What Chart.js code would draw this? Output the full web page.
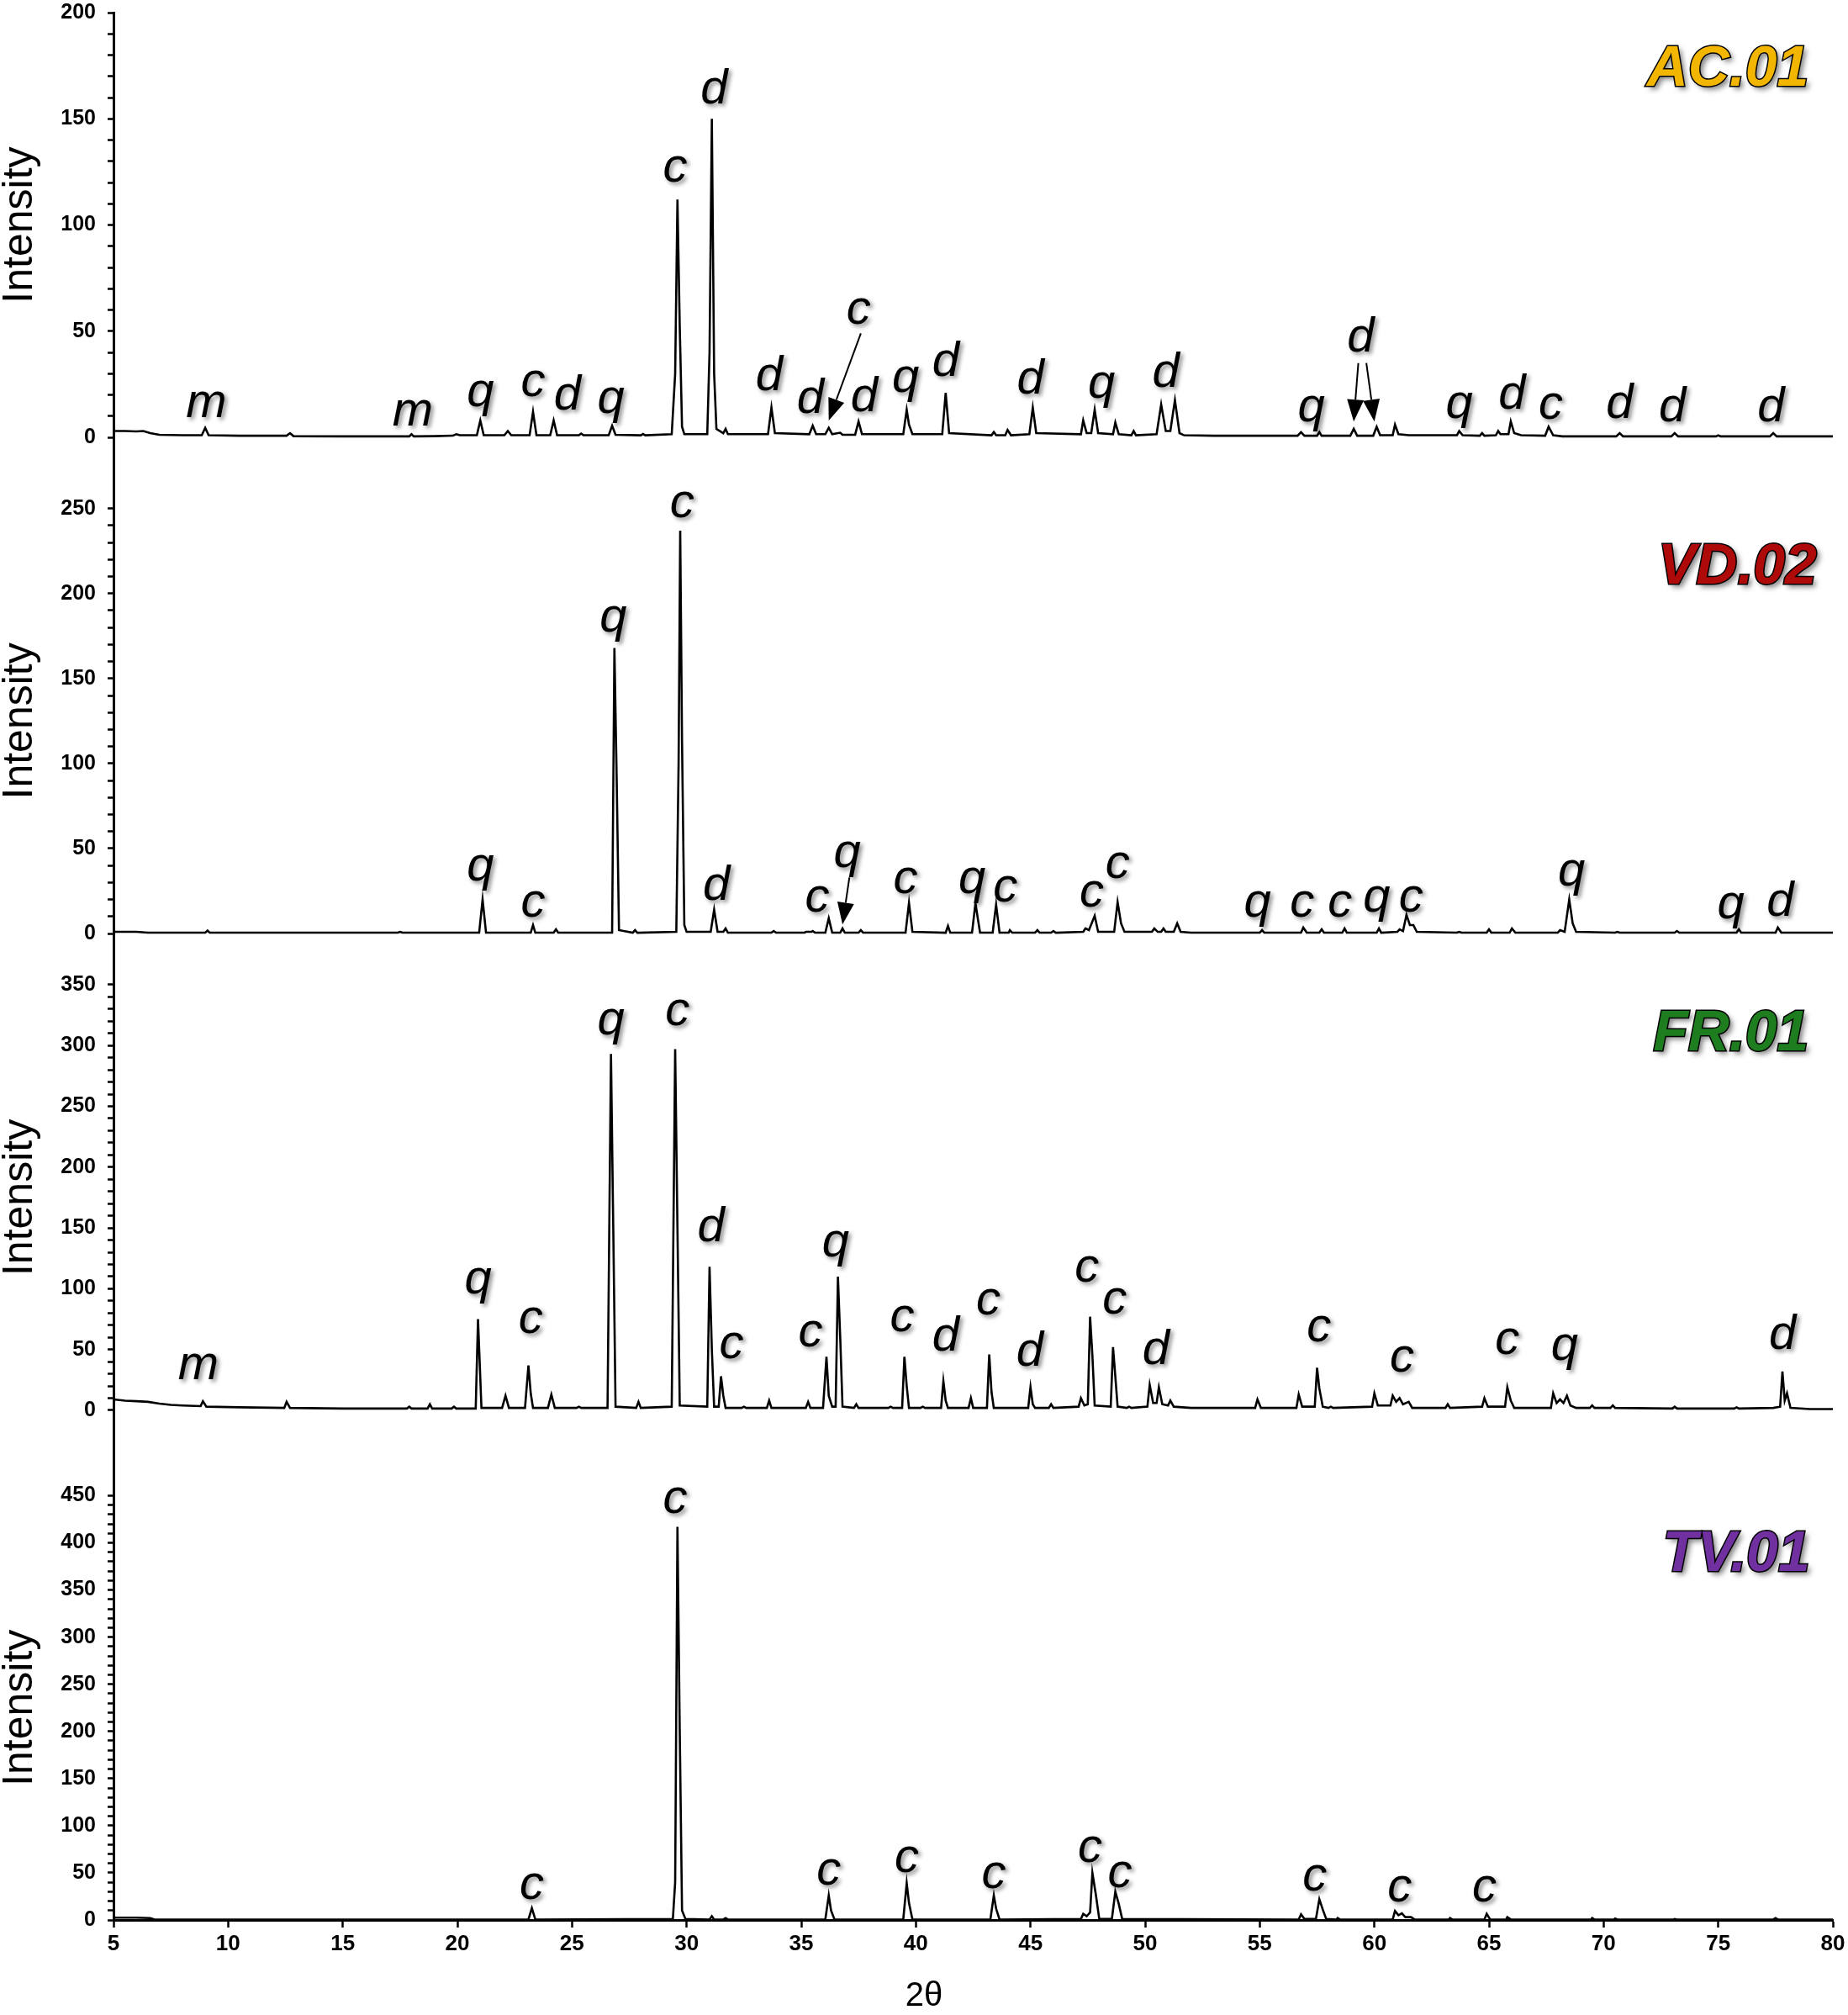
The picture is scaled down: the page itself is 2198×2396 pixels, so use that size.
<!DOCTYPE html>
<html>
<head>
<meta charset="utf-8">
<title>XRD patterns</title>
<script src="https://cdn.jsdelivr.net/npm/chart.js@4.4.1/dist/chart.umd.min.js"></script>
<style>
  body { margin: 0; background: #fff; }
  #wrap { position: relative; width: 2198px; height: 2396px; }
  #wrap canvas { position: absolute; left: 0; }
</style>
</head>
<body>
<div id="wrap">
  <canvas id="pAC" style="top:0px"></canvas>
  <canvas id="pVD" style="top:560px"></canvas>
  <canvas id="pFR" style="top:1140px"></canvas>
  <canvas id="pTV" style="top:1725px"></canvas>
</div>
<script>
// x axis ticks (2 theta)
const twoThetaTicks = [5, 10, 15, 20, 25, 30, 35, 40, 45, 50, 55, 60, 65, 70, 75, 80];

// AC.01 pattern
const acTheta = [5.0, 5.5, 6.0, 6.3, 6.6, 7.0, 8.0, 8.85, 9.0, 9.15, 10.5, 12.55, 12.7, 12.85, 15.0, 17.9, 18.0, 18.1, 19.0, 19.8, 19.95, 20.1,
  20.85, 21.0, 21.15, 22.05, 22.2, 22.35, 23.15, 23.3, 23.45, 24.05, 24.2, 24.35, 25.3, 25.4, 25.5, 26.6, 26.75, 26.9, 28.0, 28.1, 28.2,
  29.35, 29.5, 29.6, 29.7, 29.8, 29.9, 30.9, 31.0, 31.1, 31.2, 31.3, 31.6, 31.7, 31.8, 33.55, 33.7, 33.85, 35.35, 35.5, 35.65, 36.05, 36.2, 36.35,
  36.7, 36.8, 37.35, 37.5, 37.65, 39.45, 39.6, 39.7, 39.85, 41.15, 41.3, 41.45, 43.3, 43.4, 43.5, 43.9, 44.0, 44.15, 44.95, 45.1, 45.25,
  47.2, 47.3, 47.45, 47.65, 47.8, 47.95, 48.6, 48.7, 48.85, 49.4, 49.5, 49.6, 50.5, 50.7, 50.9, 51.1, 51.3, 51.5, 51.7, 53.0,
  56.65, 56.8, 56.95, 57.5, 57.6, 57.7, 58.95, 59.1, 59.25, 59.95, 60.1, 60.25, 60.8, 60.9, 61.05, 61.5, 63.6, 63.7, 63.85, 64.6, 64.7, 64.8,
  65.3, 65.4, 65.5, 65.85, 65.95, 66.1, 66.4, 67.45, 67.6, 67.8, 68.2, 70.55, 70.7, 70.85, 72.95, 73.1, 73.25, 74.9, 75.0, 75.1,
  77.25, 77.4, 77.55, 80.0];
const acIntensity = [3, 3, 2.8, 3, 2, 1.2, 1, 1, 4.5, 1, 0.8, 0.8, 2, 0.6, 0.5, 0.5, 1.5, 0.5, 0.6, 0.8, 1.5, 1,
  1, 8, 1, 1, 3, 1, 1, 12, 1, 1, 8, 1, 1, 1.8, 1, 1, 5.5, 1.2, 1, 1.6, 1,
  1.5, 30, 112, 52, 5, 1.5, 1.5, 40, 150, 30, 4, 2, 4, 1.5, 1.5, 14, 2, 1.5, 5.5, 1.5, 1.5, 4.5, 1.5,
  2.2, 1.2, 1.2, 7.5, 1.5, 1.5, 13, 6, 1.5, 1.5, 21, 2, 1, 2.5, 1, 1, 3.5, 1, 1.5, 14, 2,
  1.5, 8, 2, 2, 13, 2, 1.5, 7, 1.5, 1, 3, 1, 1.5, 15.5, 3, 3, 17.5, 2, 1, 0.8,
  0.8, 2.5, 0.8, 0.8, 2.5, 0.8, 0.8, 4, 0.8, 0.8, 5, 1, 1, 6, 1.5, 1, 1, 3, 1, 0.8, 2, 0.8,
  1, 3, 1.5, 1.5, 7.5, 2, 1, 0.8, 5, 1, 0.5, 0.5, 2, 0.5, 0.5, 2, 0.5, 0.5, 1, 0.5,
  0.5, 2, 0.5, 0.5];
const acLabels = ['m', 'm', 'q', 'c', 'd', 'q', 'c', 'd', 'd', 'd', 'c', 'd', 'q', 'd', 'd', 'q', 'd', 'q', 'd', 'q', 'd', 'c', 'd', 'd', 'd'];
const acLabelTheta = [9.05, 18.05, 21.0, 23.3, 24.8, 26.7, 29.5, 31.2, 33.6, 35.4, 37.5, 37.75, 39.55, 41.3, 45.0, 48.1, 50.9, 57.25, 59.4, 63.7, 66.0, 67.7, 70.7, 73.0, 77.3];
const acLabelValue = [16, 12, 21, 26, 19.5, 18, 127, 163.5, 28.6, 18, 60, 18.8, 28, 35.4, 27, 25, 30, 14, 47, 15.7, 20, 15, 15.7, 14, 14];
const acArrows = [[37.6, 49, 36.2, 8], [59.3, 35, 59.1, 7.5], [59.65, 35, 60.0, 7.5]];

// VD.02 pattern
const vdTheta = [5.0, 6.0, 6.5, 9.0, 9.1, 9.2, 17.4, 17.5, 17.6, 20.95, 21.1, 21.25, 23.2, 23.3, 23.4, 24.2, 24.3, 24.4,
  26.75, 26.85, 26.95, 27.05, 27.65, 27.75, 27.85, 29.55, 29.65, 29.72, 29.8, 29.9, 30.0, 31.05, 31.2, 31.35, 31.6, 31.7, 31.8,
  33.7, 33.8, 33.9, 35.15, 35.2, 35.45, 35.5, 35.6, 36.05, 36.2, 36.35, 36.7, 36.8, 36.9, 37.5, 37.6, 37.7,
  39.55, 39.7, 39.85, 41.3, 41.4, 41.5, 42.45, 42.6, 42.7, 42.8, 43.35, 43.5, 43.65, 44.05, 44.1, 44.2, 45.2, 45.3, 45.4, 45.9, 46.0, 46.1,
  47.3, 47.4, 47.55, 47.8, 47.95, 48.65, 48.8, 48.95, 49.1, 50.3, 50.4, 50.55, 50.7, 50.8, 50.9, 51.25, 51.4, 51.55, 52.0,
  55.0, 55.1, 55.2, 56.8, 56.9, 57.05, 57.6, 57.7, 57.8, 58.6, 58.7, 58.8, 60.1, 60.2, 60.3, 61.0, 61.1, 61.25, 61.4, 61.55, 61.7, 61.85,
  63.6, 63.7, 63.8, 64.9, 65.0, 65.1, 65.9, 66.0, 66.15, 68.0, 68.1, 68.3, 68.5, 68.65, 68.8, 70.5, 70.6, 70.7, 73.1, 73.2, 73.3,
  75.8, 75.9, 76.0, 77.5, 77.6, 77.75, 80.0];
const vdIntensity = [1, 1, 0.5, 0.5, 1.8, 0.5, 0.5, 1, 0.5, 0.5, 20, 0.5, 0.5, 5, 0.5, 0.5, 2.5, 0.5,
  0.5, 168, 90, 2, 0.5, 2, 0.5, 1, 100, 237, 113, 5, 1, 1, 14, 1, 1, 3, 0.5,
  0.5, 1.5, 0.5, 0.5, 1, 1, 1.5, 0.5, 0.5, 9, 0.5, 0.5, 3, 0.5, 0.5, 2, 0.5,
  0.5, 18, 1, 0.5, 4.5, 0.5, 0.5, 18, 9, 0.5, 0.5, 17, 0.5, 0.5, 2, 0.5, 0.5, 2, 0.5, 0.5, 1.5, 0.5,
  1, 3, 2, 10.5, 1, 1, 18.5, 6, 1, 1, 3, 1, 1, 3, 1, 1, 6, 1, 0.5,
  0.5, 2, 0.5, 0.5, 3.5, 0.5, 0.5, 2.5, 0.5, 0.5, 3, 0.5, 0.5, 3, 0.5, 1, 2.5, 1.5, 11, 5, 5, 1,
  0.5, 1, 0.5, 0.5, 2.5, 0.5, 0.5, 3, 0.5, 0.5, 2, 1, 20, 6, 1, 0.5, 1, 0.5, 0.5, 1.5, 0.5,
  0.5, 2.5, 0.5, 0.5, 3.5, 0.5, 0.5];
const vdLabels = ['q', 'c', 'q', 'c', 'd', 'c', 'q', 'c', 'q', 'c', 'c', 'c', 'q', 'c', 'c', 'q', 'c', 'q', 'q', 'd'];
const vdLabelTheta = [21.0, 23.3, 26.8, 29.8, 31.3, 35.7, 37.0, 39.55, 42.45, 43.9, 47.67, 48.8, 54.9, 56.85, 58.5, 60.1, 61.6, 68.6, 75.55, 77.7];
const vdLabelValue = [39, 18, 185.5, 253, 28, 21, 47, 31.7, 31.7, 26.7, 23.7, 40.5, 17.8, 17.8, 17.8, 21, 21, 36, 16.8, 18.5];
const vdArrows = [[37.1, 33, 36.8, 5.4]];

// FR.01 pattern
const frTheta = [5.0, 5.5, 6.0, 6.5, 7.0, 7.5, 8.0, 8.8, 8.9, 9.05, 10.5, 12.45, 12.55, 12.7, 15.0, 17.8, 17.9, 18.0, 18.7, 18.8, 18.9,
  19.75, 19.85, 19.95, 20.8, 20.9, 21.05, 21.95, 22.1, 22.25, 22.95, 23.1, 23.2, 23.3, 23.95, 24.1, 24.25, 25.2, 25.3, 25.4,
  26.55, 26.7, 26.8, 26.9, 27.8, 27.9, 28.0, 29.35, 29.5, 29.6, 29.7, 30.9, 31.0, 31.1, 31.2, 31.4, 31.5, 31.6, 31.7,
  32.4, 32.5, 32.6, 33.5, 33.6, 33.7, 35.2, 35.3, 35.4, 35.95, 36.1, 36.2, 36.35, 36.5, 36.6, 36.7, 36.8, 37.3, 37.4, 37.5,
  38.8, 38.9, 39.0, 39.4, 39.5, 39.6, 39.7, 40.2, 40.3, 40.4, 41.1, 41.2, 41.3, 41.4, 42.3, 42.4, 42.5, 43.1, 43.2, 43.3, 43.4,
  44.9, 45.0, 45.1, 45.2, 45.8, 45.9, 46.0, 47.1, 47.2, 47.35, 47.5, 47.6, 47.7, 47.8, 48.5, 48.6, 48.7, 48.8, 49.2, 49.3, 49.4,
  50.1, 50.2, 50.35, 50.5, 50.6, 50.75, 51.0, 51.1, 51.25, 52.0, 54.8, 54.9, 55.05, 56.6, 56.7, 56.85, 57.4, 57.5, 57.6, 57.75,
  58.0, 58.1, 58.2, 59.9, 60.0, 60.15, 60.7, 60.8, 60.95, 61.1, 61.25, 61.5, 61.65, 63.1, 63.2, 63.3, 64.7, 64.8, 64.95,
  65.7, 65.8, 65.95, 66.1, 67.7, 67.8, 67.95, 68.1, 68.25, 68.4, 68.55, 68.8, 69.4, 69.5, 69.6, 70.3, 70.4, 70.5,
  73.0, 73.1, 73.2, 75.7, 75.8, 75.9, 77.4, 77.7, 77.8, 77.9, 78.0, 78.15, 79.0, 80.0];
const frIntensity = [9, 8, 7.5, 7, 5.5, 4.5, 4, 3.5, 7.5, 3, 2.5, 2, 7, 2, 1.5, 1.5, 3, 1.5, 1.5, 5, 1.5,
  1.5, 3, 1.5, 1.5, 75, 2, 2, 12, 2, 2, 37, 14, 2, 2, 13, 2, 2, 3, 2,
  2, 293, 150, 3, 2, 7, 2, 3, 297, 150, 4, 3, 118, 50, 3, 3, 28, 12, 2,
  2, 3, 2, 2, 8, 2, 2, 7, 2, 2, 44, 12, 3, 3, 110, 60, 3, 2, 5, 2,
  2, 3, 2, 2, 44, 20, 2, 2, 3, 2, 2, 24, 8, 2, 2, 10, 2, 2, 46, 15, 2,
  2, 19, 5, 2, 2, 5, 2, 3, 10, 4, 5, 77, 45, 4, 3, 52, 28, 3, 2, 3, 2,
  3, 21, 6, 6, 19, 5, 4, 8, 3, 2, 2, 9, 2, 2, 13, 3, 3, 35, 18, 3,
  2, 3, 2, 3, 14, 4, 4, 12, 7, 10, 5, 7, 2, 2, 5, 2, 3, 10, 3,
  3, 19, 8, 2, 2, 14, 6, 9, 6, 12, 4, 2, 2, 4, 2, 2, 4, 2,
  1.5, 3, 1.5, 1.5, 2.5, 1.5, 2, 3, 32, 8, 14, 2, 1, 1];
const frLabels = ['m', 'q', 'c', 'q', 'c', 'd', 'c', 'c', 'q', 'c', 'd', 'c', 'd', 'c', 'c', 'd', 'c', 'c', 'c', 'q', 'd'];
const frLabelTheta = [8.7, 20.9, 23.2, 26.7, 29.6, 31.06, 31.96, 35.4, 36.5, 39.4, 41.3, 43.16, 44.97, 47.46, 48.67, 50.47, 57.58, 61.2, 65.8, 68.3, 77.8];
const frLabelValue = [36.7, 107, 75, 320, 328, 150, 54, 64, 138, 76, 60, 90, 48, 117, 91, 49, 68, 43, 57.7, 52.8, 61.6];

// TV.01 pattern
const tvTheta = [5.0, 6.0, 6.6, 6.8, 23.1, 23.25, 23.4, 29.4, 29.5, 29.6, 29.7, 29.8, 29.95, 31.0, 31.1, 31.2, 31.6, 31.7, 31.8,
  36.05, 36.2, 36.3, 36.45, 39.45, 39.6, 39.7, 39.85, 43.25, 43.4, 43.5, 43.65, 47.2, 47.3, 47.45, 47.6, 47.7, 47.85, 48.0,
  48.55, 48.7, 48.85, 49.0, 56.7, 56.8, 56.95, 57.45, 57.6, 57.75, 57.9, 58.35, 58.4, 58.5, 60.8, 60.9, 61.05, 61.2, 61.35, 61.6, 61.75,
  63.25, 63.3, 63.4, 64.8, 64.9, 65.05, 65.75, 65.8, 65.95, 69.45, 69.5, 69.6, 70.45, 70.5, 70.6, 73.05, 73.1, 73.2,
  77.4, 77.5, 77.6, 80.0];
const tvIntensity = [2.5, 2.5, 2, 0.5, 0.5, 12.5, 0.5, 1, 40, 417, 200, 10, 1, 0.5, 4, 0.5, 0.5, 2, 0.5,
  0.5, 26, 10, 0.5, 0.5, 39, 18, 0.5, 0.5, 26, 12, 0.5, 1, 6.5, 4, 8, 50, 27, 1,
  1, 30, 17, 1, 0.5, 6, 1, 1, 22, 11, 1, 0.5, 2, 0.5, 0.5, 9.5, 5, 7, 3, 3, 0.5,
  0.5, 2, 0.5, 0.5, 6.5, 0.5, 0.5, 3, 0.5, 0.5, 2, 0.5, 0.5, 1.5, 0.5, 0.5, 1, 0.5,
  0.5, 2, 0.5, 0.5];
const tvLabels = ['c', 'c', 'c', 'c', 'c', 'c', 'c', 'c', 'c', 'c'];
const tvLabelTheta = [23.25, 29.5, 36.2, 39.6, 43.4, 47.6, 48.9, 57.4, 61.1, 64.8];
const tvLabelValue = [37, 446, 52, 65, 48.5, 76, 49, 46, 34, 34];

const FONT = "'Liberation Sans', Arial, sans-serif";
Chart.defaults.font.family = FONT;
Chart.defaults.color = '#000';

// draws the letters, arrows, sample name and axis titles on top of each panel
const decorations = {
  id: 'decorations',
  afterDatasetsDraw(chart, args, opts) {
    const ctx = chart.ctx;
    const xs = chart.scales.x, ys = chart.scales.y;
    ctx.save();

    // peak letters
    ctx.font = 'italic 58px ' + FONT;
    ctx.textAlign = 'center';
    ctx.textBaseline = 'middle';
    ctx.shadowColor = 'rgba(0,0,0,0.45)';
    ctx.shadowBlur = 5;
    ctx.shadowOffsetX = 3;
    ctx.shadowOffsetY = 3;
    ctx.fillStyle = '#000';
    opts.labels.forEach((t, i) => {
      ctx.fillText(t, xs.getPixelForValue(opts.labelTheta[i]), ys.getPixelForValue(opts.labelValue[i]));
    });
    ctx.shadowColor = 'transparent';

    // arrows
    ctx.strokeStyle = '#000';
    ctx.lineWidth = 2;
    (opts.arrows || []).forEach(a => {
      const x1 = xs.getPixelForValue(a[0]), y1 = ys.getPixelForValue(a[1]);
      const x2 = xs.getPixelForValue(a[2]), y2 = ys.getPixelForValue(a[3]);
      const ang = Math.atan2(y2 - y1, x2 - x1);
      const len = 26, half = 10;
      const bx = x2 - len * Math.cos(ang), by = y2 - len * Math.sin(ang);
      ctx.beginPath();
      ctx.moveTo(x1, y1);
      ctx.lineTo(bx, by);
      ctx.stroke();
      ctx.beginPath();
      ctx.moveTo(x2, y2);
      ctx.lineTo(bx + half * Math.sin(ang), by - half * Math.cos(ang));
      ctx.lineTo(bx - half * Math.sin(ang), by + half * Math.cos(ang));
      ctx.closePath();
      ctx.fill();
    });

    // sample name
    ctx.font = 'italic bold 68px ' + FONT;
    ctx.textAlign = 'right';
    const nx = xs.getPixelForValue(opts.nameTheta), ny = ys.getPixelForValue(opts.nameValue);
    ctx.shadowColor = 'rgba(0,0,0,0.5)';
    ctx.shadowBlur = 6;
    ctx.shadowOffsetX = 4;
    ctx.shadowOffsetY = 4;
    ctx.fillStyle = opts.nameColor;
    ctx.fillText(opts.name, nx, ny);
    ctx.shadowColor = 'transparent';
    ctx.lineWidth = 3;
    ctx.strokeStyle = '#000';
    ctx.strokeText(opts.name, nx, ny);
    ctx.fillText(opts.name, nx, ny);

    // y title, centred on the labelled part of the axis
    ctx.font = '50px ' + FONT;
    ctx.textAlign = 'center';
    ctx.fillStyle = '#000';
    ctx.translate(24, ys.getPixelForValue(opts.topTick / 2));
    ctx.rotate(-Math.PI / 2);
    ctx.fillText('Intensity', 0, 0);
    ctx.restore();

    if (opts.xTitle) {
      ctx.save();
      ctx.font = '40px ' + FONT;
      ctx.textAlign = 'center';
      ctx.textBaseline = 'middle';
      ctx.fillStyle = '#000';
      ctx.fillText(opts.xTitle, chart.width / 2, chart.height - 22);
      ctx.restore();
    }
  }
};

function makePanel(id, height, theta, intensity, cfg) {
  const canvas = document.getElementById(id);
  canvas.width = 2198;
  canvas.height = height;
  canvas.style.width = '2198px';
  canvas.style.height = height + 'px';
  const bottom = !!cfg.xTitle;
  return new Chart(canvas, {
    type: 'line',
    data: {
      datasets: [{
        data: theta.map((t, i) => ({ x: t, y: intensity[i] })),
        borderColor: '#000',
        borderWidth: 2.6,
        pointRadius: 0,
        tension: 0,
        fill: false
      }]
    },
    options: {
      responsive: false,
      animation: false,
      layout: { padding: { left: 0, right: 18, top: cfg.padTop, bottom: 0 } },
      plugins: { legend: { display: false }, tooltip: { enabled: false }, decorations: cfg },
      scales: {
        x: {
          type: 'linear',
          min: 5,
          max: 80,
          display: bottom,
          afterBuildTicks: s => { s.ticks = twoThetaTicks.map(v => ({ value: v })); },
          afterFit: s => {
            s.height = bottom ? 113 : 0;
            s.paddingLeft = 0; s.paddingRight = 0; s.paddingTop = 0; s.paddingBottom = 0;
          },
          grid: { drawOnChartArea: false, tickLength: 9, tickWidth: 2.5, tickColor: '#000' },
          border: { color: '#000', width: 3 },
          ticks: { font: { size: 26, weight: 'bold' }, padding: 4, maxRotation: 0 }
        },
        y: {
          type: 'linear',
          min: cfg.yMin,
          max: cfg.yMax,
          afterBuildTicks: s => {
            const t = [];
            for (let v = 0; v <= cfg.topTick; v += 10) t.push({ value: v });
            s.ticks = t;
          },
          afterFit: s => {
            s.width = 135;
            s.paddingTop = 0; s.paddingBottom = 0; s.paddingLeft = 0; s.paddingRight = 0;
          },
          grid: { drawOnChartArea: false, tickLength: 7, tickWidth: 2.5, tickColor: '#000' },
          border: { color: '#000', width: 3 },
          ticks: {
            font: { size: 25, weight: 'bold' },
            padding: 14,
            autoSkip: false,
            callback: v => (v % 50 === 0 ? String(v) : '')
          }
        }
      }
    },
    plugins: [decorations]
  });
}

makePanel('pAC', 560, acTheta, acIntensity, {
  padTop: 15, yMin: -15.8, yMax: 200, topTick: 200,
  labels: acLabels, labelTheta: acLabelTheta, labelValue: acLabelValue, arrows: acArrows,
  name: 'AC.01', nameColor: '#F2B600', nameTheta: 78.95, nameValue: 173
});
makePanel('pVD', 580, vdTheta, vdIntensity, {
  padTop: 0, yMin: -14.8, yMax: 272.1, topTick: 250,
  labels: vdLabels, labelTheta: vdLabelTheta, labelValue: vdLabelValue, arrows: vdArrows,
  name: 'VD.02', nameColor: '#AE0A0A', nameTheta: 79.3, nameValue: 215
});
makePanel('pFR', 585, frTheta, frIntensity, {
  padTop: 0, yMin: -33.2, yMax: 371.4, topTick: 350,
  labels: frLabels, labelTheta: frLabelTheta, labelValue: frLabelValue,
  name: 'FR.01', nameColor: '#1E7D1E', nameTheta: 78.95, nameValue: 309
});
makePanel('pTV', 671, tvTheta, tvIntensity, {
  padTop: 0, yMin: 0, yMax: 497.7, topTick: 450,
  labels: tvLabels, labelTheta: tvLabelTheta, labelValue: tvLabelValue,
  name: 'TV.01', nameColor: '#7030A0', nameTheta: 79.0, nameValue: 387,
  xTitle: '2θ'
});
</script>
</body>
</html>
